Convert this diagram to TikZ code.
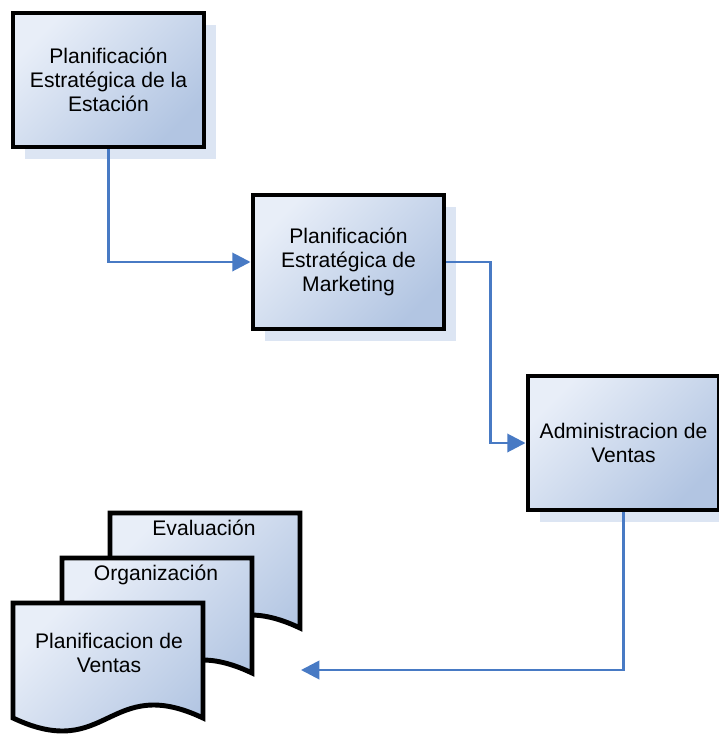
\documentclass[tikz,border=0pt]{standalone}
\usepackage{fontspec}
\setmainfont{Liberation Sans}
\usetikzlibrary{arrows.meta,shadows}
\definecolor{boxlight}{RGB}{232,238,248}
\definecolor{boxdark}{RGB}{178,197,226}
\definecolor{shadowblue}{RGB}{220,229,243}
\definecolor{linkblue}{RGB}{72,122,196}
\begin{document}
\begin{tikzpicture}[font=\fontsize{15}{17}\selectfont,
  stage/.style={draw, line width=3.5pt, minimum width=4.775cm, minimum height=3.35cm, align=center,
    top color=boxlight, bottom color=boxdark, shading angle=45,
    drop shadow={shadow xshift=0.3cm, shadow yshift=-0.3cm, fill=shadowblue, opacity=1}},
  docpage/.style={draw, line width=3.5pt, line join=miter, top color=boxlight, bottom color=boxdark, shading angle=45},
  link/.style={line width=2pt, linkblue, -{Triangle[length=13pt, width=13pt]}}]
  \useasboundingbox (0,0) rectangle (17.95,-18.425);
  \node[stage] (b1) at (2.7125,-2.0) {Planificación\\Estratégica de la\\Estación};
  \node[stage] (b2) at (8.7125,-6.55) {Planificación\\Estratégica de\\Marketing};
  \node[stage] (b3) at (15.5875,-11.075) {Administracion de\\Ventas};
  % stacked documents, back to front
  \foreach \dx/\dy in {2.75/-12.825, 1.55/-13.95, 0.325/-15.075}
    \draw[docpage, shift={(\dx,\dy)}] (0,0) -- (4.75,0) -- (4.75,-2.875)
      .. controls (2.375,-1.75) and (2.375,-4.0) .. (0,-2.875) -- cycle;
  \node (eval) at (5.1,-13.2) {Evaluación};
  \node (org) at (3.9,-14.375) {Organización};
  \node[align=center] (plan) at (2.725,-16.325) {Planificacion de\\Ventas};
  \coordinate (docs) at (7.525,-16.75);
  \draw[link] (b1.south) |- (b2.west);
  \draw[link] (b2.east) -- ++(1.1,0) |- (b3.west);
  \draw[link] (b3.south) |- (docs);
\end{tikzpicture}
\end{document}
